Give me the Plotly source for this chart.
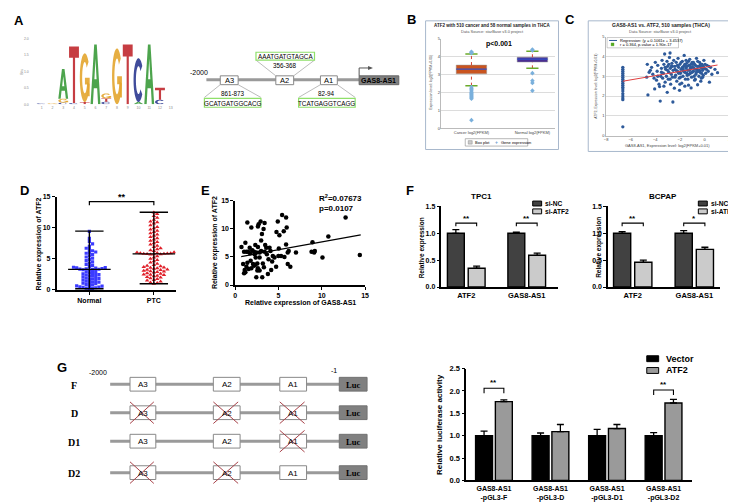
import numpy as np
import plotly.graph_objects as go

W, H = 736, 504
FONT = "Liberation Sans"
SERIF = "Liberation Serif"

# ---------------- data ----------------
# A: sequence logo, stacked bottom -> top at each position (bits)
logo_positions = [1, 2, 3, 3, 3, 4, 4, 5, 5, 6, 7, 7, 7, 8, 9, 10, 10, 11, 12, 12]
logo_letters = ['C', 'G', 'C', 'G', 'A', 'C', 'T', 'T', 'G', 'A', 'C', 'T', 'G', 'G', 'T', 'A', 'C', 'A', 'C', 'T']
logo_heights = [0.03, 0.03, 0.05, 0.12, 0.90, 0.04, 1.72, 0.07, 1.48, 1.82, 0.08, 0.10, 0.15, 1.70, 1.82, 0.07, 1.33, 1.82, 0.14, 0.36]
logo_ticks = list(range(1, 14))
logo_yticks = [0.0, 0.5, 1.0, 1.5, 2.0]

# B: starBase box plot
b_groups = ["Cancer log2(FPKM)", "Normal log2(FPKM)"]
b_q1 = [3.04, 3.70]
b_median = [3.30, 3.86]
b_q3 = [3.53, 3.97]
b_low = [2.38, 3.35]
b_high = [4.15, 4.30]
b_out_cancer = [4.20, 4.24, 4.28, 2.30, 2.22, 2.15, 2.08, 2.00, 1.94, 1.88, 1.82, 1.76, 1.70, 1.65, 0.45]
b_out_normal = [4.40, 4.35, 3.08, 2.66, 2.53, 2.10]

# C: starBase scatter
c_col_y = [3.45, 3.35, 3.25, 3.15, 3.05, 2.95, 2.85, 2.75, 2.65, 2.55, 2.45, 2.35,
           2.25, 2.12, 2.0, 1.9, 1.82, 0.45]
c_x = [-4.7, -4.65, -4.6, -4.4, -4.3, -4.2, -4.05, -4.0, -3.9, -3.85, -3.8, -3.7, -3.65, -3.6, -3.55, -3.5,
       -3.45, -3.4, -3.35, -3.3, -3.24, -3.2, -3.15, -3.1, -3.05, -3.03, -3.0, -2.95, -2.9, -2.85, -2.8, -2.78,
       -2.75, -2.7, -2.65, -2.6, -2.57, -2.55, -2.5, -2.45, -2.4, -2.35, -2.3, -2.25, -2.2, -2.15, -2.1, -2.05,
       -2.03, -2.0, -1.95, -1.9, -1.85, -1.8, -1.75, -1.7, -1.65, -1.6, -1.55, -1.5, -1.45, -1.4, -1.35, -1.3,
       -1.25, -1.2, -1.15, -1.1, -1.09, -1.05, -1.0, -0.96, -0.9, -0.85, -0.8, -0.75, -0.7, -0.65, -0.6, -0.56,
       -0.5, -0.45, -0.4, -0.35, -0.3, -0.25, -0.2, -0.15, -0.1, -0.05, 0.0, 0.1, 0.2, 0.3, 0.4, 0.5, 0.6, 0.73,
       0.85, 1.06,
       -2.4, -2.2, -2.0, -1.8, -1.6, -1.4, -1.2, -1.0, -0.8, -0.6, -0.4, -0.2, -1.9, -1.7, -1.5, -1.3, -1.1,
       -0.9, -0.7, -0.5, -0.3, -2.6, -2.3, -2.1, -1.75, -1.45, -1.15, -0.95, -0.65, -0.35, -0.1, 0.15, -3.0,
       -2.7, -1.55, -1.25, -0.85, -0.55, -0.25, 0.05, 0.35, -2.9, -3.2, -3.5, -3.8, -4.1, -4.5, -2.4, -1.95,
       -1.35, -0.75, -0.15, -2.8, -3.3, -2.0, -1.6, -0.3]
c_y = [2.95, 3.6, 2.06, 3.3, 3.45, 3.1, 2.36, 3.7, 2.8, 3.25, 3.55, 2.6, 2.48, 1.75, 3.0, 3.4,
       3.8, 2.9, 3.15, 3.6, 4.12, 2.7, 3.35, 3.0, 3.75, 2.19, 3.5, 2.85, 3.2, 3.95, 4.17, 3.4,
       2.6, 3.1, 3.65, 2.95, 1.7, 3.3, 3.8, 2.4, 3.5, 3.05, 3.7, 2.75, 3.25, 3.9, 3.45, 2.9,
       2.29, 3.6, 3.15, 3.35, 2.65, 3.75, 3.0, 3.5, 4.05, 3.2, 2.85, 3.4, 3.65, 3.05, 3.3, 2.55,
       3.55, 3.85, 3.15, 3.45, 2.41, 2.95, 3.7, 3.6, 3.25, 3.4, 2.8, 3.55, 3.1, 3.9, 3.35, 2.57,
       3.5, 3.0, 3.7, 3.2, 3.45, 2.9, 3.6, 3.3, 3.05, 3.8, 3.4, 3.15, 3.55, 3.25, 2.7, 3.45, 3.1, 3.76,
       3.35, 3.18,
       3.35, 3.55, 3.2, 3.45, 3.6, 3.5, 3.3, 3.2, 3.6, 3.5, 3.3, 3.4, 3.7, 3.25, 3.8, 3.75, 3.6,
       3.7, 3.35, 3.25, 3.6, 3.5, 3.3, 3.15, 3.35, 3.15, 3.4, 3.45, 3.2, 3.55, 3.5, 3.35, 3.3,
       3.5, 3.5, 3.1, 3.0, 3.75, 3.15, 3.6, 3.5, 3.6, 3.45, 3.2, 3.0, 2.9, 3.2, 2.95, 2.95,
       2.85, 2.85, 2.95, 2.85, 2.5, 2.6, 2.5, 2.75]
c_zero_x = -6.64
c_slope, c_intercept = 0.1061, 3.4537
c_line_x = [-6.64, 1.06]

# D: dot plot
d_groups = ["Normal", "PTC"]
d_normal = [0.2, 0.25, 0.3, 0.35, 0.4, 0.5, 0.6, 0.7, 0.8, 0.9, 1.0, 1.1, 1.2, 1.3, 1.4, 1.5, 1.6, 1.7,
            1.8, 1.9, 2.0, 2.1, 2.2, 2.3, 2.4, 2.5, 2.6, 2.7, 2.8, 2.9, 3.0, 0.45, 0.65, 1.25, 1.85, 2.45,
            3.2, 3.25, 3.3, 3.33, 3.36, 3.4, 3.45, 3.5, 3.55, 3.6, 3.65,
            3.8, 3.95, 4.1, 4.3, 4.5, 4.7, 4.9, 5.1, 5.3, 5.5, 5.7, 5.9, 6.0, 6.1, 6.3, 6.5, 6.7, 7.0,
            7.4, 7.8, 8.3, 9.4]
d_ptc = [1.0, 1.1, 1.2, 1.35, 1.5, 1.6, 1.75, 1.9, 2.0, 2.1, 2.2, 2.3, 2.4, 2.5, 2.6, 2.7, 2.8, 2.9, 3.0,
         3.1, 3.2, 3.3, 3.4, 3.5, 3.6, 3.7, 3.8, 3.9, 4.0, 4.2, 4.4, 4.6, 4.8, 5.0, 5.2, 5.4, 2.45, 2.95,
         3.25, 3.55,
         5.7, 5.72, 5.75, 5.78, 5.8, 5.82, 5.85, 5.88, 5.9, 5.95, 6.0, 6.05,
         6.25, 6.4, 6.55, 6.7, 6.9, 7.1, 7.3, 7.5, 7.7, 7.9, 8.1, 8.3, 8.5, 8.7, 8.9, 9.1, 9.3, 9.5,
         9.7, 9.9, 10.1, 10.4, 10.7, 11.0, 11.3, 11.6, 11.9, 12.2, 12.45, 10.9]
d_center = [3.3, 5.8]
d_low = [0.2, 1.0]
d_high = [9.45, 12.5]

# E: correlation scatter
e_x = [0.73, 1.03, 1.18, 1.41, 1.49, 1.41, 1.03, 1.10, 1.30, 1.68, 1.87, 1.79, 1.98, 2.18, 2.25, 2.33, 2.44,
       2.56, 2.63, 2.71, 2.82, 2.94, 3.00, 3.09, 3.13, 3.20, 3.28, 3.40, 3.32, 3.40, 3.47, 3.59, 3.66, 3.78,
       3.85, 3.97, 4.08, 4.16, 4.27, 4.35, 4.54, 4.73, 4.77, 4.92, 5.00, 5.04, 5.11, 5.30, 5.42, 5.61, 5.69,
       5.88, 5.88, 5.95, 6.07, 6.07, 6.18, 6.37, 7.02, 8.82, 8.93, 9.12, 9.20, 10.08, 10.76, 12.75, 14.39,
       0.92, 1.18, 1.56, 1.87, 2.06, 2.33, 2.56, 2.63, 2.82, 3.00, 2.18, 2.44, 2.37, 2.82, 2.63, 1.72, 1.30]
e_y = [6.74, 5.93, 7.50, 11.10, 5.93, 3.95, 2.10, 2.67, 3.26, 6.63, 10.23, 4.30, 6.16, 3.43, 5.47, 7.09, 1.40,
       2.56, 10.40, 10.80, 4.88, 11.28, 7.90, 9.07, 1.40, 3.84, 9.94, 11.00, 3.14, 5.93, 7.09, 6.63, 5.47, 1.98,
       4.60, 6.63, 6.05, 2.67, 4.19, 5.17, 4.88, 3.26, 9.42, 11.28, 5.17, 6.51, 8.84, 5.17, 12.44, 9.53, 5.00,
       11.98, 7.21, 10.23, 5.76, 3.72, 6.05, 3.26, 5.76, 5.93, 7.62, 5.76, 6.05, 4.88, 8.60, 11.98, 5.35,
       3.72, 2.27, 2.85, 2.97, 3.72, 3.60, 3.84, 2.97, 2.56, 6.05, 5.93, 5.76, 4.88, 5.76, 6.74, 5.64, 5.93]
e_slope, e_intercept = 0.28, 4.86
e_line_x = [0.7, 14.5]

# F: qPCR bars
f_genes = ["ATF2", "GAS8-AS1"]
tpc1_nc, tpc1_nc_err = [1.0, 1.0], [0.07, 0.02]
tpc1_si, tpc1_si_err = [0.35, 0.59], [0.04, 0.04]
tpc1_sig, tpc1_sig_y = ["**", "**"], [1.19, 1.19]
bcpap_nc, bcpap_nc_err = [1.0, 1.0], [0.03, 0.05]
bcpap_si, bcpap_si_err = [0.46, 0.70], [0.04, 0.04]
bcpap_sig, bcpap_sig_y = ["**", "*"], [1.19, 1.19]

# G: luciferase
g_constructs = ["GAS8-AS1<br>-pGL3-F", "GAS8-AS1<br>-pGL3-D", "GAS8-AS1<br>-pGL3-D1", "GAS8-AS1<br>-pGL3-D2"]
g_vector, g_vector_err = [1.0, 1.0, 1.0, 1.0], [0.10, 0.06, 0.14, 0.07]
g_atf2, g_atf2_err = [1.76, 1.09, 1.16, 1.73], [0.04, 0.16, 0.09, 0.08]
g_sig, g_sig_y = ["**", "", "", "**"], [2.06, 0, 0, 2.02]
g_rows = ["F", "D", "D1", "D2"]
g_mutated = [[], ["A3", "A2", "A1"], ["A1"], ["A3", "A2"]]

# ---------------- helpers ----------------
fig = go.Figure()


def xd(a, b):
    return [a / W, b / W]


def yd(t, b):
    return [1 - b / H, 1 - t / H]


def T(x, y, text, size=8, bold=False, color='black', family=FONT, xanchor='center', yanchor='middle', angle=0):
    fig.add_annotation(x=x / W, y=1 - y / H, xref='paper', yref='paper',
                       text=(f"<b>{text}</b>" if bold else text), showarrow=False,
                       font=dict(family=family, size=size, color=color), xanchor=xanchor,
                       yanchor=yanchor, textangle=angle, borderpad=0)


def R(x0, y0, x1, y1, fill='white', lc='#888', lw=1, layer='above'):
    fig.add_shape(type='rect', xref='paper', yref='paper', x0=x0 / W, x1=x1 / W, y0=1 - y1 / H,
                  y1=1 - y0 / H, fillcolor=fill, line=dict(color=lc, width=lw), layer=layer)


def L(x0, y0, x1, y1, color='#999', width=1, dash=None):
    fig.add_shape(type='line', xref='paper', yref='paper', x0=x0 / W, x1=x1 / W, y0=1 - y0 / H,
                  y1=1 - y1 / H, line=dict(color=color, width=width, dash=dash))


def ax(**kw):
    d = dict(showgrid=False, zeroline=False, showline=True, linecolor='black', linewidth=1.5,
             ticks='outside', ticklen=3, tickwidth=1.2, tickcolor='black', fixedrange=True,
             tickfont=dict(family=FONT, size=7, color='black', weight='bold'))
    d.update(kw)
    return d


axes = {}

# ---------------- A: logo ----------------
COL = {'A': '#3a9a3a', 'T': '#c0282e', 'G': '#e3a52e', 'C': '#2b3990'}


def glyph(letter, x0, x1, y0, y1):
    def P(pts):
        return "M" + " L".join(f"{x0 + (x1 - x0) * u:.4f},{y0 + (y1 - y0) * v:.4f}" for u, v in pts) + " Z"
    if letter == 'A':
        outer = [(0, 0), (0.37, 1), (0.63, 1), (1, 0), (0.76, 0), (0.67, 0.27), (0.33, 0.27), (0.24, 0)]
        hole = [(0.39, 0.42), (0.61, 0.42), (0.5, 0.76)]
        return [P(outer) + " " + P(hole)]
    if letter == 'T':
        return [P([(0, 1), (1, 1), (1, 0.8), (0.61, 0.8), (0.61, 0), (0.39, 0), (0.39, 0.8), (0, 0.8)])]
    if letter == 'C':
        a = np.linspace(np.radians(40), np.radians(320), 32)
        outer = [(0.5 + 0.5 * np.cos(t), 0.5 + 0.5 * np.sin(t)) for t in a]
        inner = [(0.5 + 0.26 * np.cos(t), 0.5 + 0.32 * np.sin(t)) for t in a[::-1]]
        return [P(outer + inner)]
    if letter == 'G':
        a = np.linspace(np.radians(40), np.radians(345), 32)
        outer = [(0.5 + 0.5 * np.cos(t), 0.5 + 0.5 * np.sin(t)) for t in a]
        inner = [(0.5 + 0.26 * np.cos(t), 0.5 + 0.32 * np.sin(t)) for t in a[::-1]]
        bar = [(0.52, 0.5), (1.0, 0.5), (1.0, 0.12), (0.78, 0.12), (0.78, 0.36), (0.52, 0.36)]
        return [P(outer + inner), P(bar)]
    return []


stack = {}
for p, let, h in zip(logo_positions, logo_letters, logo_heights):
    b = stack.get(p, 0.0)
    for path in glyph(let, p - 0.46, p + 0.46, b, b + h):
        fig.add_shape(type='path', path=path, xref='x', yref='y', fillcolor=COL[let],
                      line=dict(width=0), fillrule='evenodd', opacity=0.9)
    stack[p] = b + h

fig.add_trace(go.Scatter(x=[1, 13], y=[0, 0], mode='markers', marker=dict(opacity=0), xaxis='x', yaxis='y'))
small = dict(family=FONT, size=3.5, color='#888')
axes['xaxis'] = dict(domain=xd(20, 168), range=[-0.108, 13.55], anchor='y', showgrid=False, zeroline=False,
                     showline=False, tickvals=logo_ticks, tickfont=small, ticks='', fixedrange=True)
axes['yaxis'] = dict(domain=yd(27, 94), range=[0, 2], anchor='x', showgrid=False, zeroline=False,
                     showline=False, tickvals=logo_yticks, ticktext=[f"{v:.1f}" for v in logo_yticks],
                     tickfont=small, ticks='', fixedrange=True)
T(12, 61, "Bits", size=3.5, color='#888', angle=-90)

# ---------------- A: promoter diagram ----------------
T(191, 62, "-2000", size=7)
L(198, 69, 352, 69, color='#9a9a9a', width=3)
for name, x0, x1 in [("A3", 212, 230), ("A2", 268, 286), ("A1", 313, 330)]:
    R(x0, 65, x1, 74, fill='white', lc='#888', lw=1)
    T((x0 + x1) / 2, 69.7, name, size=7.5)
R(352, 65, 392, 74, fill='#7f7f7f', lc='#666', lw=1)
T(372, 69.7, "GAS8-AS1", size=7, bold=True)
L(352, 65, 352, 57, color='#555', width=1)
L(352, 57, 362, 57, color='#555', width=1)
fig.add_shape(type='path', xref='paper', yref='paper', fillcolor='#555', line=dict(width=0),
              path=f"M{361 / W},{1 - 55 / H} L{366 / W},{1 - 57 / H} L{361 / W},{1 - 59 / H} Z")
GREEN = '#8fe06a'
# A2 above
L(248, 49, 268, 65, color='#aaa', width=0.8)
L(307, 49, 286, 65, color='#aaa', width=0.8)
R(248, 41, 307, 49, fill='white', lc=GREEN, lw=1.2)
T(277.5, 45.2, "AAATGATGTAGCA", size=6.3)
T(277, 54.5, "356-368", size=6.3)
# A3 below
L(212, 74, 196, 87, color='#aaa', width=0.8)
L(230, 74, 253, 87, color='#aaa', width=0.8)
R(196, 88, 253, 97, fill='white', lc=GREEN, lw=1.2)
T(224.5, 92.7, "GCATGATGGCACG", size=6.3)
T(225, 83, "861-873", size=6.3)
# A1 below
L(313, 74, 291, 87, color='#aaa', width=0.8)
L(330, 74, 348, 87, color='#aaa', width=0.8)
R(291, 88, 348, 97, fill='white', lc=GREEN, lw=1.2)
T(319.5, 92.7, "TCATGAGGTCAGG", size=6.3)
T(319, 83, "82-94", size=6.3)

# ---------------- B ----------------
R(419, 9, 553, 140, fill='rgba(0,0,0,0)', lc='#a8b8cc', lw=1, layer='below')
T(486, 13.5, "ATF2 with 510 cancer and 58 normal samples in THCA", size=4.5, bold=True, color='#222')
T(486, 20, "Data Source: starBase v3.0 project", size=4, color='#555')
bx = [1, 2]
fig.add_trace(go.Bar(x=bx, y=[q3 - q1 for q1, q3 in zip(b_q1, b_q3)], base=b_q1, width=0.5,
                     marker=dict(color=['#c9541f', '#4a2e91'], line=dict(color='#999', width=0.5)),
                     xaxis='x2', yaxis='y2'))
for c, q1, m, q3, lo, hi in zip(bx, b_q1, b_median, b_q3, b_low, b_high):
    fig.add_trace(go.Scatter(x=[c, c], y=[q3, hi], mode='lines', line=dict(color='#d04030', width=1, dash='dot'),
                             xaxis='x2', yaxis='y2'))
    fig.add_trace(go.Scatter(x=[c, c], y=[lo, q1], mode='lines', line=dict(color='#d04030', width=1, dash='dot'),
                             xaxis='x2', yaxis='y2'))
    for v in (lo, hi):
        fig.add_trace(go.Scatter(x=[c - 0.1, c + 0.1], y=[v, v], mode='lines', line=dict(color='#6aaa2a', width=1.5),
                                 xaxis='x2', yaxis='y2'))
    fig.add_trace(go.Scatter(x=[c - 0.25, c + 0.25], y=[m, m], mode='lines', line=dict(color='#3050c8', width=1.2),
                             xaxis='x2', yaxis='y2'))
for c, outs in zip(bx, [b_out_cancer, b_out_normal]):
    fig.add_trace(go.Scatter(x=[c] * len(outs), y=outs, mode='markers',
                             marker=dict(symbol='diamond', size=3.5, color='#7ab0dc'), xaxis='x2', yaxis='y2'))
tiny = dict(family=FONT, size=4, color='#444')
axes['xaxis2'] = dict(domain=xd(435, 549), range=[0.508, 2.363], anchor='y2', tickvals=bx, ticktext=b_groups,
                      tickfont=tiny, showgrid=False, zeroline=False, showline=True, linecolor='#bbb',
                      linewidth=0.5, ticks='', fixedrange=True)
axes['yaxis2'] = dict(domain=yd(27.3, 118.3), range=[0, 5], anchor='x2', dtick=1, tickfont=tiny,
                      showgrid=True, gridcolor='#dcdcdc', gridwidth=0.5, zeroline=False, showline=True,
                      linecolor='#bbb', linewidth=0.5, ticks='', fixedrange=True)
T(424.5, 72, "Expression level: log2(FPKM+0.01)", size=3.5, color='#444', angle=-90)
T(493, 33, "p<0.001", size=7, bold=True)
R(459, 129, 522, 136.5, fill='white', lc='#888', lw=0.6)
R(462, 131, 466, 134.5, fill='#cccccc', lc='#888', lw=0.5)
T(468, 132.8, "Box plot", size=4, xanchor='left')
T(490, 132.8, "+", size=5, color='#6aa0d0', bold=True)
T(494, 132.8, "Gene expression", size=4, xanchor='left')

# ---------------- C ----------------
R(583, 9, 730, 142, fill='rgba(0,0,0,0)', lc='#a8b8cc', lw=1, layer='below')
T(656, 13.5, "GAS8-AS1 vs. ATF2, 510 samples (THCA)", size=5, bold=True, color='#222')
T(656, 20, "Data Source: starBase v3.0 project", size=4, color='#555')
fig.add_trace(go.Scatter(x=[c_zero_x] * len(c_col_y) + c_x, y=c_col_y + c_y, mode='markers',
                         marker=dict(size=3.3, color='#2e5a9a'), xaxis='x3', yaxis='y3'))
fig.add_trace(go.Scatter(x=c_line_x, y=[c_slope * v + c_intercept for v in c_line_x], mode='lines',
                         line=dict(color='#e04040', width=1), xaxis='x3', yaxis='y3'))
axes['xaxis3'] = dict(domain=xd(601, 725), range=[-8, 2], anchor='y3', dtick=2, tickfont=tiny,
                      showgrid=False, zeroline=False, showline=True, linecolor='#bbb', linewidth=0.5,
                      ticks='', fixedrange=True)
axes['yaxis3'] = dict(domain=yd(25, 126), range=[0, 5], anchor='x3', dtick=1, tickfont=tiny,
                      showgrid=True, gridcolor='#dcdcdc', gridwidth=0.5, zeroline=False, showline=True,
                      linecolor='#bbb', linewidth=0.5, ticks='', fixedrange=True)
T(663, 136, "GAS8-AS1, Expression level: log2(FPKM+0.01)", size=4, color='#444')
T(590, 76, "ATF2, Expression level: log2(FPKM+0.01)", size=3.5, color='#444', angle=-90)
R(602, 26, 674, 36.5, fill='white', lc='#999', lw=0.5)
L(604, 29, 612, 29, color='#2e5a9a', width=1)
T(614, 29, f"Regression: (y = {c_slope}x + {c_intercept})", size=4, xanchor='left')
R(606, 31.5, 609, 34.5, fill='#55aa22', lc='#55aa22', lw=0.3)
T(614, 33.3, "r = 0.364, p-value = 1.90e-17", size=4, xanchor='left')

# ---------------- D ----------------
PPX_D, PPY_D = 65.0, (283 - 188) / 15.0


def swarm(vals, center, ppx, ppy, size):
    placed, res = [], [0.0] * len(vals)
    for i in sorted(range(len(vals)), key=lambda k: vals[k]):
        yv = vals[i] * ppy
        k = 0
        while True:
            off = 0.0 if k == 0 else ((k + 1) // 2) * (1 if k % 2 else -1) * size
            if all((off - a) ** 2 + (yv - b) ** 2 >= (size * 0.95) ** 2 for a, b in placed):
                break
            k += 1
        placed.append((off, yv))
        res[i] = center + off / ppx
    return res


fig.add_trace(go.Scatter(x=swarm(d_normal, 1, PPX_D, PPY_D, 3.2), y=d_normal, mode='markers',
                         marker=dict(symbol='square', size=3.2, color='#3b3bff'), xaxis='x4', yaxis='y4'))
fig.add_trace(go.Scatter(x=swarm(d_ptc, 2, PPX_D, PPY_D, 3.4), y=d_ptc, mode='markers',
                         marker=dict(symbol='triangle-up', size=4, color='#e0202a'), xaxis='x4', yaxis='y4'))
for c, m, lo, hi in zip([1, 2], d_center, d_low, d_high):
    seg = dict(mode='lines', line=dict(color='black', width=1.4), xaxis='x4', yaxis='y4')
    fig.add_trace(go.Scatter(x=[c, c], y=[lo, hi], **seg))
    fig.add_trace(go.Scatter(x=[c - 0.33, c + 0.33], y=[m, m], **seg))
    for v in (lo, hi):
        fig.add_trace(go.Scatter(x=[c - 0.22, c + 0.22], y=[v, v], **seg))
fig.add_trace(go.Scatter(x=[1, 1, 2, 2], y=[13.6, 14.2, 14.2, 13.6], mode='lines', cliponaxis=False,
                         line=dict(color='black', width=1.2), xaxis='x4', yaxis='y4'))
fig.add_annotation(x=1.5, y=15.0, xref='x4', yref='y4', text='<b>**</b>', showarrow=False,
                   font=dict(family=FONT, size=9, color='black'))
axes['xaxis4'] = ax(domain=xd(47, 167), range=[0.492, 2.338], anchor='y4', tickvals=[1, 2], ticktext=d_groups)
axes['yaxis4'] = ax(domain=yd(188, 283), range=[0, 15], anchor='x4', tickvals=[0, 5, 10, 15])
T(29, 236, "Relative expression of ATF2", size=7, bold=True, angle=-90)

# ---------------- E ----------------
fig.add_trace(go.Scatter(x=e_x, y=e_y, mode='markers', marker=dict(size=4.5, color='black'),
                         xaxis='x5', yaxis='y5'))
fig.add_trace(go.Scatter(x=e_line_x, y=[e_slope * v + e_intercept for v in e_line_x], mode='lines',
                         line=dict(color='black', width=1.2), xaxis='x5', yaxis='y5'))
axes['xaxis5'] = ax(domain=xd(227, 358), range=[0, 15], anchor='y5', tickvals=[0, 5, 10, 15])
axes['yaxis5'] = ax(domain=yd(192, 278), range=[0, 15], anchor='x5', tickvals=[0, 5, 10, 15])
T(293, 296, "Relative expression of GAS8-AS1", size=7, bold=True)
T(206, 235, "Relative expression of ATF2", size=7, bold=True, angle=-90)
T(311, 189, "R<sup>2</sup>=0.07673", size=8, bold=True, xanchor='left')
T(311, 200, "p=0.0107", size=8, bold=True, xanchor='left')


# ---------------- F ----------------
def bar_panel(xa, ya, nc, nc_err, si, si_err, sig, sig_y, off, bw, c1, c2):
    g = list(range(len(nc)))
    for vals, errs, sgn, col in [(nc, nc_err, -1, c1), (si, si_err, 1, c2)]:
        fig.add_trace(go.Bar(x=[i + sgn * off for i in g], y=vals, width=bw,
                             marker=dict(color=col, line=dict(color='black', width=1.4)),
                             error_y=dict(type='data', array=errs, arrayminus=[0] * len(errs), symmetric=False,
                                          color='black', thickness=1.3, width=3.5),
                             xaxis=xa, yaxis=ya))
    for i, s, yv in zip(g, sig, sig_y):
        if not s:
            continue
        fig.add_trace(go.Scatter(x=[i - off, i - off, i + off, i + off], y=[yv - 0.06, yv, yv, yv - 0.06],
                                 mode='lines', line=dict(color='black', width=1.1), cliponaxis=False,
                                 xaxis=xa, yaxis=ya))
        fig.add_annotation(x=i, y=yv, yshift=5, xref=xa, yref=ya, text=f'<b>{s}</b>', showarrow=False,
                           font=dict(family=FONT, size=8, color='black'))


bar_panel('x6', 'y6', tpc1_nc, tpc1_nc_err, tpc1_si, tpc1_si_err, tpc1_sig, tpc1_sig_y, 0.172, 0.279,
          '#414141', '#cbcbcb')
bar_panel('x7', 'y7', bcpap_nc, bcpap_nc_err, bcpap_si, bcpap_si_err, bcpap_sig, bcpap_sig_y, 0.172, 0.279,
          '#414141', '#cbcbcb')
fticks = dict(tickvals=[0, 0.5, 1.0, 1.5], ticktext=["0.0", "0.5", "1.0", "1.5"])
axes['xaxis6'] = ax(domain=xd(435, 553), range=[-0.41, 1.525], anchor='y6', tickvals=[0, 1], ticktext=f_genes,
                    ticks='', tickfont=dict(family=FONT, size=7.5, color='black', weight='bold'))
axes['yaxis6'] = ax(domain=yd(198, 280), range=[0, 1.5], anchor='x6', **fticks)
axes['xaxis7'] = ax(domain=xd(603, 716), range=[-0.40, 1.42], anchor='y7', tickvals=[0, 1], ticktext=f_genes,
                    ticks='', tickfont=dict(family=FONT, size=7.5, color='black', weight='bold'))
axes['yaxis7'] = ax(domain=yd(198, 280), range=[0, 1.5], anchor='x7', **fticks)
T(475, 187.5, "TPC1", size=8, bold=True)
T(658, 187.5, "BCPAP", size=8, bold=True)
T(415, 240, "Relative expression", size=6.5, bold=True, angle=-90)
T(594, 240, "Relative expression", size=6.5, bold=True, angle=-90)
for lx in (527, 694):
    R(lx, 192.5, lx + 9, 197.5, fill='#414141', lc='black', lw=1)
    R(lx, 200.5, lx + 9, 205.5, fill='#cbcbcb', lc='black', lw=1)
    T(lx + 11.5, 195, "si-NC", size=6.6, bold=True, xanchor='left')
    T(lx + 11.5, 203, "si-ATF2", size=6.6, bold=True, xanchor='left')

# ---------------- G left diagram ----------------
T(52, 362, "G", size=13, bold=True)
T(89, 367.5, "-2000", size=7)
T(327, 365.5, "-1", size=7)
row_y = [379, 408, 437, 469]
boxes = [("A3", 121, 147), ("A2", 205, 232), ("A1", 272, 299)]
for name, y, muts in zip(g_rows, row_y, g_mutated):
    T(65, y + 1, name, size=10, bold=True, family=SERIF)
    L(101, y, 332, y, color='#9a9a9a', width=3)
    for bn, x0, x1 in boxes:
        R(x0, y - 7, x1, y + 7, fill='white', lc='#888', lw=1)
        T((x0 + x1) / 2, y + 0.5, bn, size=8)
        if bn in muts:
            L(x0, y - 11, x1 - 2, y + 11, color='#a8434a', width=1)
            L(x1 - 2, y - 11, x0, y + 11, color='#a8434a', width=1)
    R(332, y - 7, 360, y + 7, fill='#808080', lc='#707070', lw=1)
    T(346, y + 0.5, "Luc", size=8.5, bold=True, family=SERIF)

# ---------------- G right bars ----------------
gi = list(range(len(g_vector)))
for vals, errs, sgn, col in [(g_vector, g_vector_err, -1, '#000000'), (g_atf2, g_atf2_err, 1, '#9a9a9a')]:
    fig.add_trace(go.Bar(x=[i + sgn * 0.175 for i in gi], y=vals, width=0.3,
                         marker=dict(color=col, line=dict(color='black', width=1.4)),
                         error_y=dict(type='data', array=errs, arrayminus=[0] * len(errs), symmetric=False,
                                      color='black', thickness=1.3, width=3.5),
                         xaxis='x8', yaxis='y8'))
for i, s, yv in zip(gi, g_sig, g_sig_y):
    if not s:
        continue
    fig.add_trace(go.Scatter(x=[i - 0.175, i - 0.175, i + 0.175, i + 0.175], y=[yv - 0.11, yv, yv, yv - 0.11],
                             mode='lines', line=dict(color='black', width=1.1), cliponaxis=False,
                             xaxis='x8', yaxis='y8'))
    fig.add_annotation(x=i, y=yv, yshift=6, xref='x8', yref='y8', text=f'<b>{s}</b>', showarrow=False,
                       font=dict(family=FONT, size=8, color='black'))
axes['xaxis8'] = ax(domain=xd(460, 688), range=[-0.49, 3.51], anchor='y8', tickvals=gi, ticktext=g_constructs,
                    ticks='', tickfont=dict(family=FONT, size=7, color='black', weight='bold'))
axes['yaxis8'] = ax(domain=yd(363, 477), range=[0, 2.5], anchor='x8', tickvals=[0, 0.5, 1, 1.5, 2, 2.5],
                    ticktext=["0.0", "0.5", "1.0", "1.5", "2.0", "2.5"],
                    tickfont=dict(family=FONT, size=7.5, color='black', weight='bold'))
T(433, 420, "Relative luciferase activity", size=8, bold=True, angle=-90)
R(642, 350, 654, 356, fill='black', lc='black', lw=1)
R(642, 362, 654, 368, fill='#9a9a9a', lc='black', lw=1)
T(660, 353, "Vector", size=9, bold=True, xanchor='left')
T(660, 365, "ATF2", size=9, bold=True, xanchor='left')

# ---------------- panel letters ----------------
for lab, x, y in [("A", 9, 9), ("B", 405, 8), ("C", 565, 8), ("D", 15, 182), ("E", 197, 182), ("F", 403, 182)]:
    T(x, y, lab, size=13, bold=True)

fig.update_layout(width=W, height=H, margin=dict(l=0, r=0, t=0, b=0), paper_bgcolor='white',
                  plot_bgcolor='rgba(0,0,0,0)', showlegend=False, barmode='overlay', **axes)
fig.write_html("out.html")
